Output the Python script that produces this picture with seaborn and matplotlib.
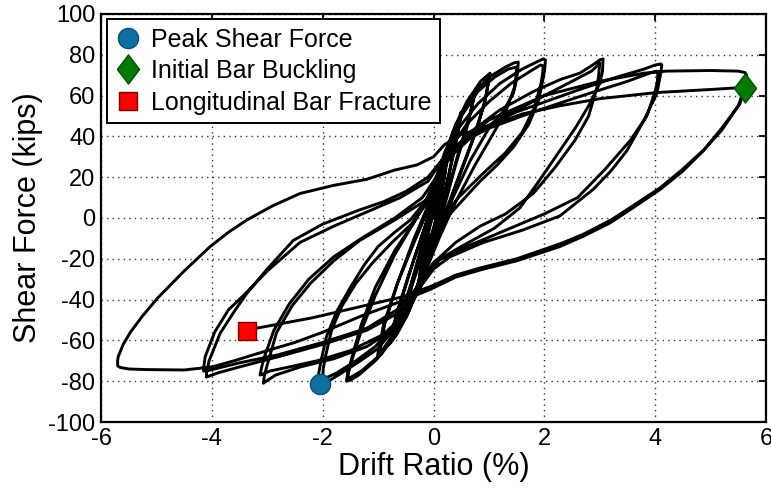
import numpy as np
import pandas as pd
import matplotlib
matplotlib.use("Agg")
import matplotlib.pyplot as plt
from matplotlib.path import Path
import seaborn as sns

# ---------------- data (drift ratio %, shear force kips) ----------------
cycle_0p25 = [(0, 0), (0.1, 14), (0.2, 26), (0.27, 34),
              (0.2, 20), (0.08, 4), (-0.05, -12), (-0.17, -24), (-0.27, -32),
              (-0.2, -20), (-0.08, -6), (0.05, 8), (0.15, 20), (0.26, 32),
              (0.18, 18), (0.05, 0), (-0.1, -15), (-0.26, -30)]
cycle_0p5 = [(-0.18, -16), (-0.02, 2), (0.15, 20), (0.3, 36), (0.42, 46), (0.5, 52),
             (0.42, 40), (0.28, 22), (0.1, 0), (-0.1, -18), (-0.3, -34), (-0.42, -43), (-0.5, -48),
             (-0.4, -34), (-0.22, -16), (-0.02, 4), (0.18, 24), (0.34, 40), (0.5, 50),
             (0.4, 36), (0.22, 14), (0.02, -8), (-0.2, -26), (-0.38, -40), (-0.5, -46)]
cycle_0p75 = [(-0.38, -30), (-0.18, -10), (0.02, 10), (0.2, 28), (0.4, 44), (0.58, 55), (0.75, 62),
              (0.65, 50), (0.45, 32), (0.22, 10), (0.0, -12), (-0.25, -32), (-0.48, -48), (-0.66, -57), (-0.8, -62),
              (-0.68, -48), (-0.45, -28), (-0.2, -8), (0.02, 10), (0.26, 32), (0.5, 50), (0.74, 60),
              (0.62, 46), (0.4, 26), (0.16, 2), (-0.1, -20), (-0.38, -40), (-0.6, -52), (-0.78, -60)]
cycle_1p0 = [(-0.6, -42), (-0.35, -20), (-0.1, 0), (0.1, 18), (0.35, 42), (0.6, 57), (0.85, 67), (1.02, 71),
             (0.95, 60), (0.8, 45), (0.6, 30), (0.35, 12), (0.1, -8), (-0.2, -28), (-0.5, -46), (-0.75, -58),
             (-0.92, -66), (-1.02, -69),
             (-0.9, -52), (-0.65, -32), (-0.35, -12), (-0.1, 4), (0.15, 24), (0.45, 48), (0.75, 62), (1.0, 68),
             (0.92, 56), (0.7, 38), (0.45, 20), (0.15, -2), (-0.15, -24), (-0.45, -44), (-0.75, -58), (-0.98, -67)]
cycle_1p5 = [(-0.88, -52), (-0.65, -32), (-0.35, -10), (-0.1, 6), (0.15, 26), (0.4, 46), (0.7, 60), (1.0, 69),
             (1.3, 74), (1.45, 76), (1.53, 76.5),
             (1.52, 73), (1.5, 68), (1.44, 61), (1.25, 52), (1.02, 45), (0.66, 28), (0.35, 10), (0.1, -8),
             (-0.2, -28), (-0.45, -46), (-0.75, -60), (-1.05, -70), (-1.35, -77), (-1.5, -79.5), (-1.57, -80),
             (-1.55, -76), (-1.5, -72), (-1.3, -55), (-1.05, -38), (-0.7, -18), (-0.35, -2), (-0.05, 12),
             (0.2, 32), (0.45, 48), (0.8, 62), (1.1, 69), (1.35, 73), (1.5, 74),
             (1.49, 70), (1.46, 64), (1.3, 52), (1.05, 40), (0.75, 26), (0.4, 8), (0.1, -10), (-0.2, -30),
             (-0.45, -46), (-0.7, -58), (-1.0, -68), (-1.3, -75), (-1.55, -79)]
cycle_2p0 = [(-1.52, -74), (-1.47, -68), (-1.3, -52), (-1.05, -34), (-0.7, -16), (-0.35, -2), (-0.05, 12),
             (0.2, 30), (0.45, 44), (0.8, 56), (1.2, 66), (1.6, 73), (1.9, 77), (1.98, 78), (2.02, 77.5),
             (2.01, 74), (1.99, 70), (1.9, 58), (1.72, 46), (1.45, 35), (1.15, 26), (0.84, 18), (0.4, 5),
             (-0.06, -9), (-0.3, -26), (-0.5, -42), (-0.73, -55), (-1.0, -64), (-1.32, -70), (-1.6, -75),
             (-1.86, -79.4), (-2.02, -81.2), (-2.09, -81.4),
             (-2.07, -76), (-2.03, -70), (-1.93, -58), (-1.75, -46), (-1.5, -34), (-1.25, -23), (-1.0, -14),
             (-0.7, -7), (-0.42, -1), (-0.15, 8), (0.1, 22), (0.3, 34), (0.6, 46), (1.0, 57), (1.4, 66),
             (1.75, 72), (1.93, 75), (1.98, 74.5),
             (1.97, 71), (1.94, 66), (1.82, 54), (1.6, 42), (1.3, 32), (0.9, 22), (0.45, 10), (0.0, -6),
             (-0.28, -22), (-0.5, -40), (-0.75, -54), (-1.05, -63), (-1.4, -70), (-1.75, -76), (-1.95, -78.5),
             (-2.0, -79)]
cycle_3p0 = [(-1.99, -74), (-1.95, -68), (-1.84, -55), (-1.65, -43), (-1.4, -32), (-1.1, -22), (-0.75, -12),
             (-0.4, -3), (-0.1, 8), (0.1, 20), (0.3, 32), (0.66, 42), (1.2, 53), (1.8, 62), (2.3, 68),
             (2.64, 71), (2.9, 75.5), (3.0, 77.5), (3.06, 78),
             (3.05, 72), (3.0, 66), (2.8, 55), (2.58, 45), (2.28, 33), (1.9, 18), (1.56, 5), (1.1, -5),
             (0.5, -14), (0.12, -20), (-0.2, -32), (-0.45, -45), (-0.75, -55), (-1.2, -63), (-1.8, -69),
             (-2.4, -73), (-2.85, -77), (-3.02, -80), (-3.07, -81),
             (-3.05, -77), (-3.0, -72), (-2.83, -56), (-2.55, -43), (-2.22, -32), (-1.8, -21), (-1.33, -11),
             (-0.7, -1), (-0.12, 9), (0.1, 20), (0.3, 30), (0.7, 40), (1.3, 50), (2.0, 60), (2.5, 67),
             (2.85, 72), (2.97, 75), (3.0, 76),
             (2.98, 70), (2.95, 64), (2.8, 50), (2.55, 38), (2.2, 25), (1.8, 12), (1.3, 2), (0.84, -4),
             (0.4, -12), (0.0, -22), (-0.3, -36), (-0.55, -48), (-0.9, -57), (-1.5, -65), (-2.1, -70),
             (-2.6, -73), (-2.95, -75), (-3.08, -76.5), (-3.13, -77)]
cycle_4p0 = [(-3.1, -73), (-3.05, -68), (-2.88, -55), (-2.6, -42), (-2.25, -30), (-1.8, -19), (-1.3, -10),
             (-0.7, 0), (-0.2, 10), (0.1, 22), (0.4, 34), (0.8, 43), (1.5, 52), (2.64, 63), (3.3, 69),
             (3.8, 73), (4.0, 75), (4.1, 75.5), (4.12, 75),
             (4.1, 71), (4.08, 68), (4.03, 61), (3.8, 48), (3.49, 33), (3.2, 23), (2.88, 14), (2.28, 1),
             (1.6, -6), (0.9, -12), (0.3, -19), (0.0, -25), (-0.3, -36), (-0.6, -46), (-1.2, -55), (-2.0, -62),
             (-2.8, -68), (-3.5, -73), (-3.9, -76), (-4.05, -77.5), (-4.1, -78),
             (-4.09, -75), (-4.05, -70), (-3.85, -56.5), (-3.6, -46), (-3.37, -37), (-3.0, -25), (-2.53, -11),
             (-2.0, -3), (-1.33, 4), (-0.9, 8), (-0.5, 13), (-0.1, 20), (0.2, 30), (0.5, 37), (1.0, 44),
             (1.8, 52), (2.8, 61), (3.5, 67), (3.9, 71), (4.02, 72), (4.05, 71.5),
             (4.04, 67), (4.0, 62), (3.85, 50), (3.55, 38), (3.1, 24), (2.6, 10), (2.0, 2), (1.3, -6),
             (0.6, -14), (0.0, -22), (-0.3, -34), (-0.6, -44), (-1.2, -54), (-2.0, -61), (-2.8, -67),
             (-3.5, -71), (-3.95, -74), (-4.1, -75), (-4.15, -75)]
cycle_5p6 = [(-4.14, -72), (-4.12, -68), (-3.95, -56), (-3.7, -45), (-3.43, -38), (-3.0, -26), (-2.41, -12),
             (-1.8, -4), (-1.2, 3), (-0.6, 10), (-0.1, 18), (0.15, 28), (0.4, 35), (1.0, 48), (2.0, 60),
             (3.0, 67), (3.8, 71), (4.2, 72), (5.0, 72.3), (5.5, 72), (5.62, 71.3), (5.65, 70),
             (5.62, 65), (5.53, 56), (5.2, 44), (4.87, 33), (4.5, 23), (4.09, 14), (3.6, 5), (3.18, -2.5),
             (2.7, -9), (2.28, -14), (1.5, -21), (0.84, -25.5), (0.4, -29), (-0.06, -35), (-0.6, -41),
             (-1.3, -48), (-2.0, -56), (-2.5, -61), (-3.0, -65), (-3.6, -70), (-4.0, -73), (-4.5, -74.5),
             (-5.2, -74.3), (-5.5, -74), (-5.65, -73.3), (-5.7, -72.5),
             (-5.7, -70), (-5.69, -68), (-5.6, -62), (-5.47, -56), (-5.25, -48), (-4.97, -39), (-4.5, -26),
             (-4.03, -14), (-3.7, -7), (-3.37, -1), (-2.9, 6), (-2.41, 12), (-1.8, 16), (-1.2, 19),
             (-0.7, 23.5), (-0.3, 26), (0, 30), (0.2, 36), (0.5, 41), (1.0, 45), (1.6, 51), (2.28, 55),
             (3.0, 58.5), (4.03, 61.5), (5.0, 63), (5.6, 64)]
final_half = [(5.58, 61), (5.5, 55), (5.2, 43), (4.9, 34), (4.5, 24), (4.1, 15), (3.6, 6), (3.2, -1),
              (2.7, -8), (2.3, -12.5), (1.5, -20), (0.84, -24.5), (0.4, -28), (0, -33), (-0.55, -38.6),
              (-1.33, -43.5), (-2.2, -49), (-3.19, -54), (-3.37, -55.4)]

event_labels = ["Peak Shear Force", "Initial Bar Buckling", "Longitudinal Bar Fracture"]
event_drift = [-2.05, 5.62, -3.37]
event_force = [-81.3, 63.8, -55.4]

x_ticks = [-6, -4, -2, 0, 2, 4, 6]
y_ticks = [-100, -80, -60, -40, -20, 0, 20, 40, 60, 80, 100]

# ---------------- build table ----------------
history = (cycle_0p25 + cycle_0p5 + cycle_0p75 + cycle_1p0 + cycle_1p5 +
           cycle_2p0 + cycle_3p0 + cycle_4p0 + cycle_5p6 + final_half)
df = pd.DataFrame(history, columns=["drift", "force"])
df["step"] = np.arange(len(df))

# ---------------- figure ----------------
sns.set_style("white")
plt.rcParams["font.family"] = ["Liberation Sans", "DejaVu Sans"]
plt.rcParams["text.color"] = "black"
plt.rcParams["axes.labelcolor"] = "black"
plt.rcParams["xtick.color"] = "black"
plt.rcParams["ytick.color"] = "black"

fig = plt.figure(figsize=(7.71, 4.9), dpi=100)
ax = fig.add_axes([101 / 771, 1 - 422 / 490, 665 / 771, 408 / 490])

sns.lineplot(data=df, x="drift", y="force", sort=False, estimator=None,
             color="black", linewidth=2.1, ax=ax, zorder=3)

diamond = Path([(0, 1), (0.76, 0), (0, -1), (-0.76, 0), (0, 1)],
               [Path.MOVETO, Path.LINETO, Path.LINETO, Path.LINETO, Path.CLOSEPOLY])
styles = [dict(marker="o", ms=14.5, mfc="#0e6fa3", mec="#0a4e74"),
          dict(marker=diamond, ms=21, mfc="#007a00", mec="#005000"),
          dict(marker="s", ms=13.5, mfc="#ff0000", mec="#7a0000")]
for lab, xd, yd, st in zip(event_labels, event_drift, event_force, styles):
    ax.plot([xd], [yd], linestyle="none", label=lab, zorder=5, mew=1.0, **st)

ax.set_xlim(-6, 6)
ax.set_ylim(-100, 100)
ax.set_xticks(x_ticks)
ax.set_yticks(y_ticks)
ax.set_xticklabels([str(t) for t in x_ticks])
ax.set_yticklabels([str(t) for t in y_ticks])
ax.tick_params(direction="in", length=5, width=1.3, top=True, right=True,
               labelsize=17, colors="black", labelcolor="black", pad=4)
ax.grid(True, linestyle=(0, (1, 3)), color="#333333", linewidth=1.0)
for sp in ax.spines.values():
    sp.set_visible(True)
    sp.set_color("black")
    sp.set_linewidth(1.6)

ax.set_xlabel("Drift Ratio (%)", fontsize=22, labelpad=2, color="black")
ax.set_ylabel("Shear Force (kips)", fontsize=22, labelpad=4, color="black")

leg = ax.legend(loc="upper left", bbox_to_anchor=(0.009, 0.988), borderaxespad=0,
                fontsize=18, frameon=True, fancybox=False, edgecolor="black",
                framealpha=1, handlelength=1.0, handletextpad=0.4, borderpad=0.35,
                labelspacing=0.3)
leg.get_frame().set_linewidth(1.4)
for t in leg.get_texts():
    t.set_color("black")

fig.savefig("out.png", dpi=100)
